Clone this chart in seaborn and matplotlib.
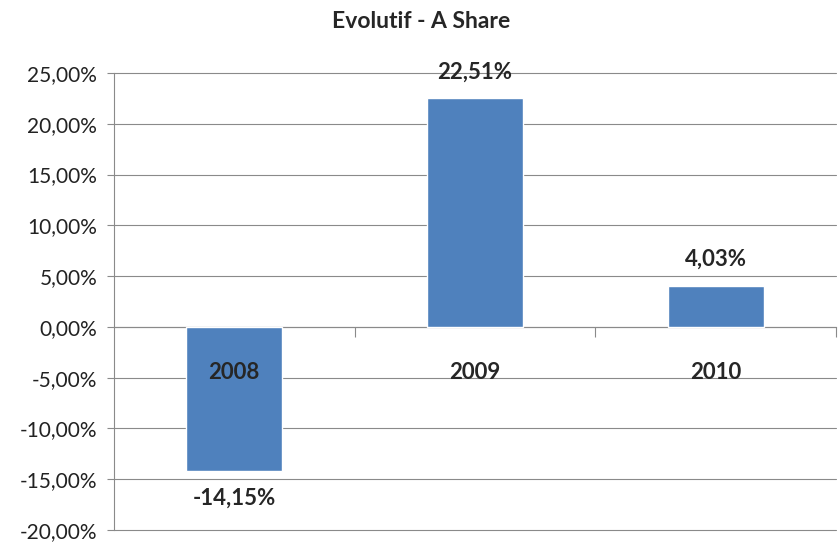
import matplotlib
matplotlib.use('Agg')
import matplotlib.pyplot as plt
import pandas as pd
import seaborn as sns
from matplotlib.ticker import FuncFormatter, FixedLocator

years = ['2008', '2009', '2010']
share = [-14.15, 22.51, 4.03]
data_labels = ['-14,15%', '22,51%', '4,03%']

sns.set_style('white')
plt.rcParams['font.family'] = ['Lato', 'DejaVu Sans']

df = pd.DataFrame({'year': years, 'share': share})

fig = plt.figure(figsize=(8.38, 5.42), dpi=100)
ax = fig.add_axes([0.136, 0.0221, 0.8616, 0.8432])

sns.barplot(data=df, x='year', y='share', color='#4F81BD', saturation=1,
            width=0.4, ax=ax, zorder=3)

ax.set_ylim(-20, 25)
ax.set_xlim(-0.5, 2.5)
ax.set_yticks(range(-20, 26, 5))
ax.yaxis.set_major_formatter(FuncFormatter(lambda v, p: f'{v:.2f}%'.replace('.', ',')))
ax.grid(axis='y', color='#8a8a8a', linewidth=0.8, zorder=0)
ax.grid(axis='x', visible=False)
for gl in ax.yaxis.get_gridlines():
    gl.set_clip_on(False)
ax.tick_params(axis='y', labelsize=15, labelcolor='#222222', length=5,
               width=0.8, color='#8a8a8a', pad=7, left=True)

for s in ['top', 'right']:
    ax.spines[s].set_visible(False)
ax.spines['left'].set_color('#8a8a8a')
ax.spines['left'].set_linewidth(0.8)
ax.spines['bottom'].set_position(('data', 0))
ax.spines['bottom'].set_color('#8a8a8a')
ax.spines['bottom'].set_linewidth(0.8)

# ticks between categories on the zero line
ax.xaxis.set_minor_locator(FixedLocator([0.5, 1.5, 2.5]))
ax.tick_params(axis='x', which='minor', bottom=True, length=7, width=0.8,
               color='#8a8a8a', direction='out')
ax.tick_params(axis='x', which='major', bottom=False, labelbottom=False)
ax.set_xlabel('')
ax.set_ylabel('')

# category labels drawn above the bars
for i, y in enumerate(years):
    ax.annotate(y, (i, 0), xytext=(0, -33), textcoords='offset points',
                ha='center', va='center', fontsize=16, fontweight='bold', zorder=5)

for i, (v, t) in enumerate(zip(share, data_labels)):
    off = 19 if v > 0 else -20
    ax.annotate(t, (i, v), xytext=(0, off), textcoords='offset points',
                ha='center', va='center', fontsize=16, fontweight='bold', zorder=5)

fig.text(0.503, 0.960, 'Evolutif - A Share', ha='center', va='center',
         fontsize=16.5, fontweight='bold')

fig.savefig('out.png', dpi=100)
